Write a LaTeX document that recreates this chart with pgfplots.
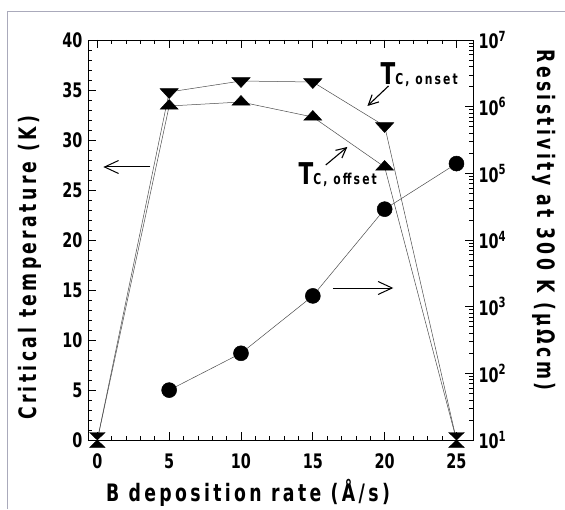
\documentclass[border=0pt]{standalone}
\usepackage{pgfplots}
\pgfplotsset{compat=1.18}
\usetikzlibrary{arrows.meta}
\usepackage{fontspec}
\setmainfont{DejaVu Sans}[FakeStretch=0.72]
\newfontfamily\labfont{DejaVu Sans}[FakeStretch=0.72, LetterSpace=14]

% triangle centres
\pgfplotstableread{
x onset offset
0  0    0
5  34.8 33.4
10 35.9 33.8
15 35.8 32.3
20 31.4 27.3
25 0    0
}\tctable

\pgfplotstableread{
x rho
5  56
10 200
15 1450
20 29000
25 140000
}\rhotable

\begin{document}
\begin{tikzpicture}
\useasboundingbox (-88pt,-69pt) rectangle (477pt,440pt);
\draw[gray!45!blue!20!gray!60, line width=1pt] (-80pt,-69pt) -- (-80pt,428pt) -- (477pt,428pt);

\begin{axis}[
    scale only axis, width=385pt, height=400pt,
    at={(0,0)}, anchor=south west,
    xmin=-0.65, xmax=26.15, ymin=0, ymax=40,
    xtick={0,5,...,25}, minor x tick num=4,
    ytick={0,5,...,40}, minor y tick num=4,
    tick align=inside, xtick pos=both, ytick pos=left,
    major tick length=8pt, minor tick length=4pt,
    tick style={black, line width=0.7pt},
    axis line style={line width=0.9pt},
    ticklabel style={font=\fontsize{20}{20}\selectfont\bfseries},
    /pgf/number format/assume math mode=true,
    xticklabel style={yshift=-10pt},
    yticklabel style={xshift=-2pt},
    clip=false,
]
\addplot[gray!60!black, line width=0.5pt, mark=triangle*, mark size=6.5pt,
    mark indices={2,3,4,5},
    mark options={rotate=180, xscale=1.6, fill=black, draw=black}]
    table[x=x, y=onset] {\tctable};
\addplot[gray!60!black, line width=0.5pt, mark=triangle*, mark size=6.5pt,
    mark indices={2,3,4,5},
    mark options={xscale=1.6, fill=black, draw=black}]
    table[x=x, y=offset] {\tctable};
% zero points: the two triangles meet tip to tip
\addplot[only marks, mark=triangle*, mark size=5pt,
    mark options={yshift=5pt, rotate=180, xscale=1.8, fill=black, draw=black}]
    coordinates {(0,0) (25,0)};
\addplot[only marks, mark=triangle*, mark size=5pt,
    mark options={yshift=-5pt, xscale=1.8, fill=black, draw=black}]
    coordinates {(0,0) (25,0)};

\draw[-{Straight Barb[length=14pt,width=13pt]}, line width=1pt] (axis cs:3.7,27.3) -- (axis cs:0.42,27.3);
\draw[-{Straight Barb[length=14pt,width=13pt]}, line width=1pt] (axis cs:16.4,15.2) -- (axis cs:20.6,15.2);
\draw[-{Straight Barb[length=10pt,width=10pt]}, line width=1.1pt] (axis cs:20.27,35.4) -- (axis cs:18.8,33.4);
\draw[-{Straight Barb[length=10pt,width=10pt]}, line width=1.1pt] (axis cs:15.9,27.5) -- (axis cs:17.4,29.3);

\node[anchor=base west, inner sep=0pt] at (axis cs:19.71,35.5)
  {\bfseries{\fontsize{30}{30}\selectfont T}{\labfont\fontsize{15}{15}\selectfont C, onset}};
\node[anchor=base west, inner sep=0pt] at (axis cs:14.0,25.5)
  {\bfseries{\fontsize{30}{30}\selectfont T}{\labfont\fontsize{15}{15}\selectfont C, offset}};
\end{axis}

\begin{axis}[
    scale only axis, width=385pt, height=400pt,
    at={(0,0)}, anchor=south west,
    xmin=-0.65, xmax=26.15, ymode=log, ymin=10, ymax=1e7,
    axis x line=none, axis y line*=right,
    ytick={1e1,1e2,1e3,1e4,1e5,1e6,1e7},
    yticklabels={10\textsuperscript{1},10\textsuperscript{2},10\textsuperscript{3},10\textsuperscript{4},10\textsuperscript{5},10\textsuperscript{6},10\textsuperscript{7}},
    tick align=inside,
    major tick length=8pt, minor tick length=4pt,
    tick style={black, line width=0.7pt},
    axis line style={line width=0.9pt},
    ticklabel style={font=\fontsize{20}{20}\selectfont\bfseries},
    yticklabel style={xshift=2pt},
    clip=false,
]
\addplot[gray!60!black, line width=0.5pt, mark=*, mark size=7.5pt,
    mark options={fill=black, draw=black}]
    table[x=x, y=rho] {\rhotable};
\end{axis}

\node[rotate=90, font=\labfont\fontsize{24}{24}\selectfont\bfseries] at (-58pt,172pt) {Critical temperature (K)};
\node[rotate=-90, font=\labfont\fontsize{24}{24}\selectfont\bfseries] at (456pt,220pt) {Resistivity at 300 K (μΩcm)};
\node[font=\labfont\fontsize{24}{24}\selectfont\bfseries] at (160pt,-53pt) {B deposition rate (Å/s)};
\end{tikzpicture}
\end{document}
